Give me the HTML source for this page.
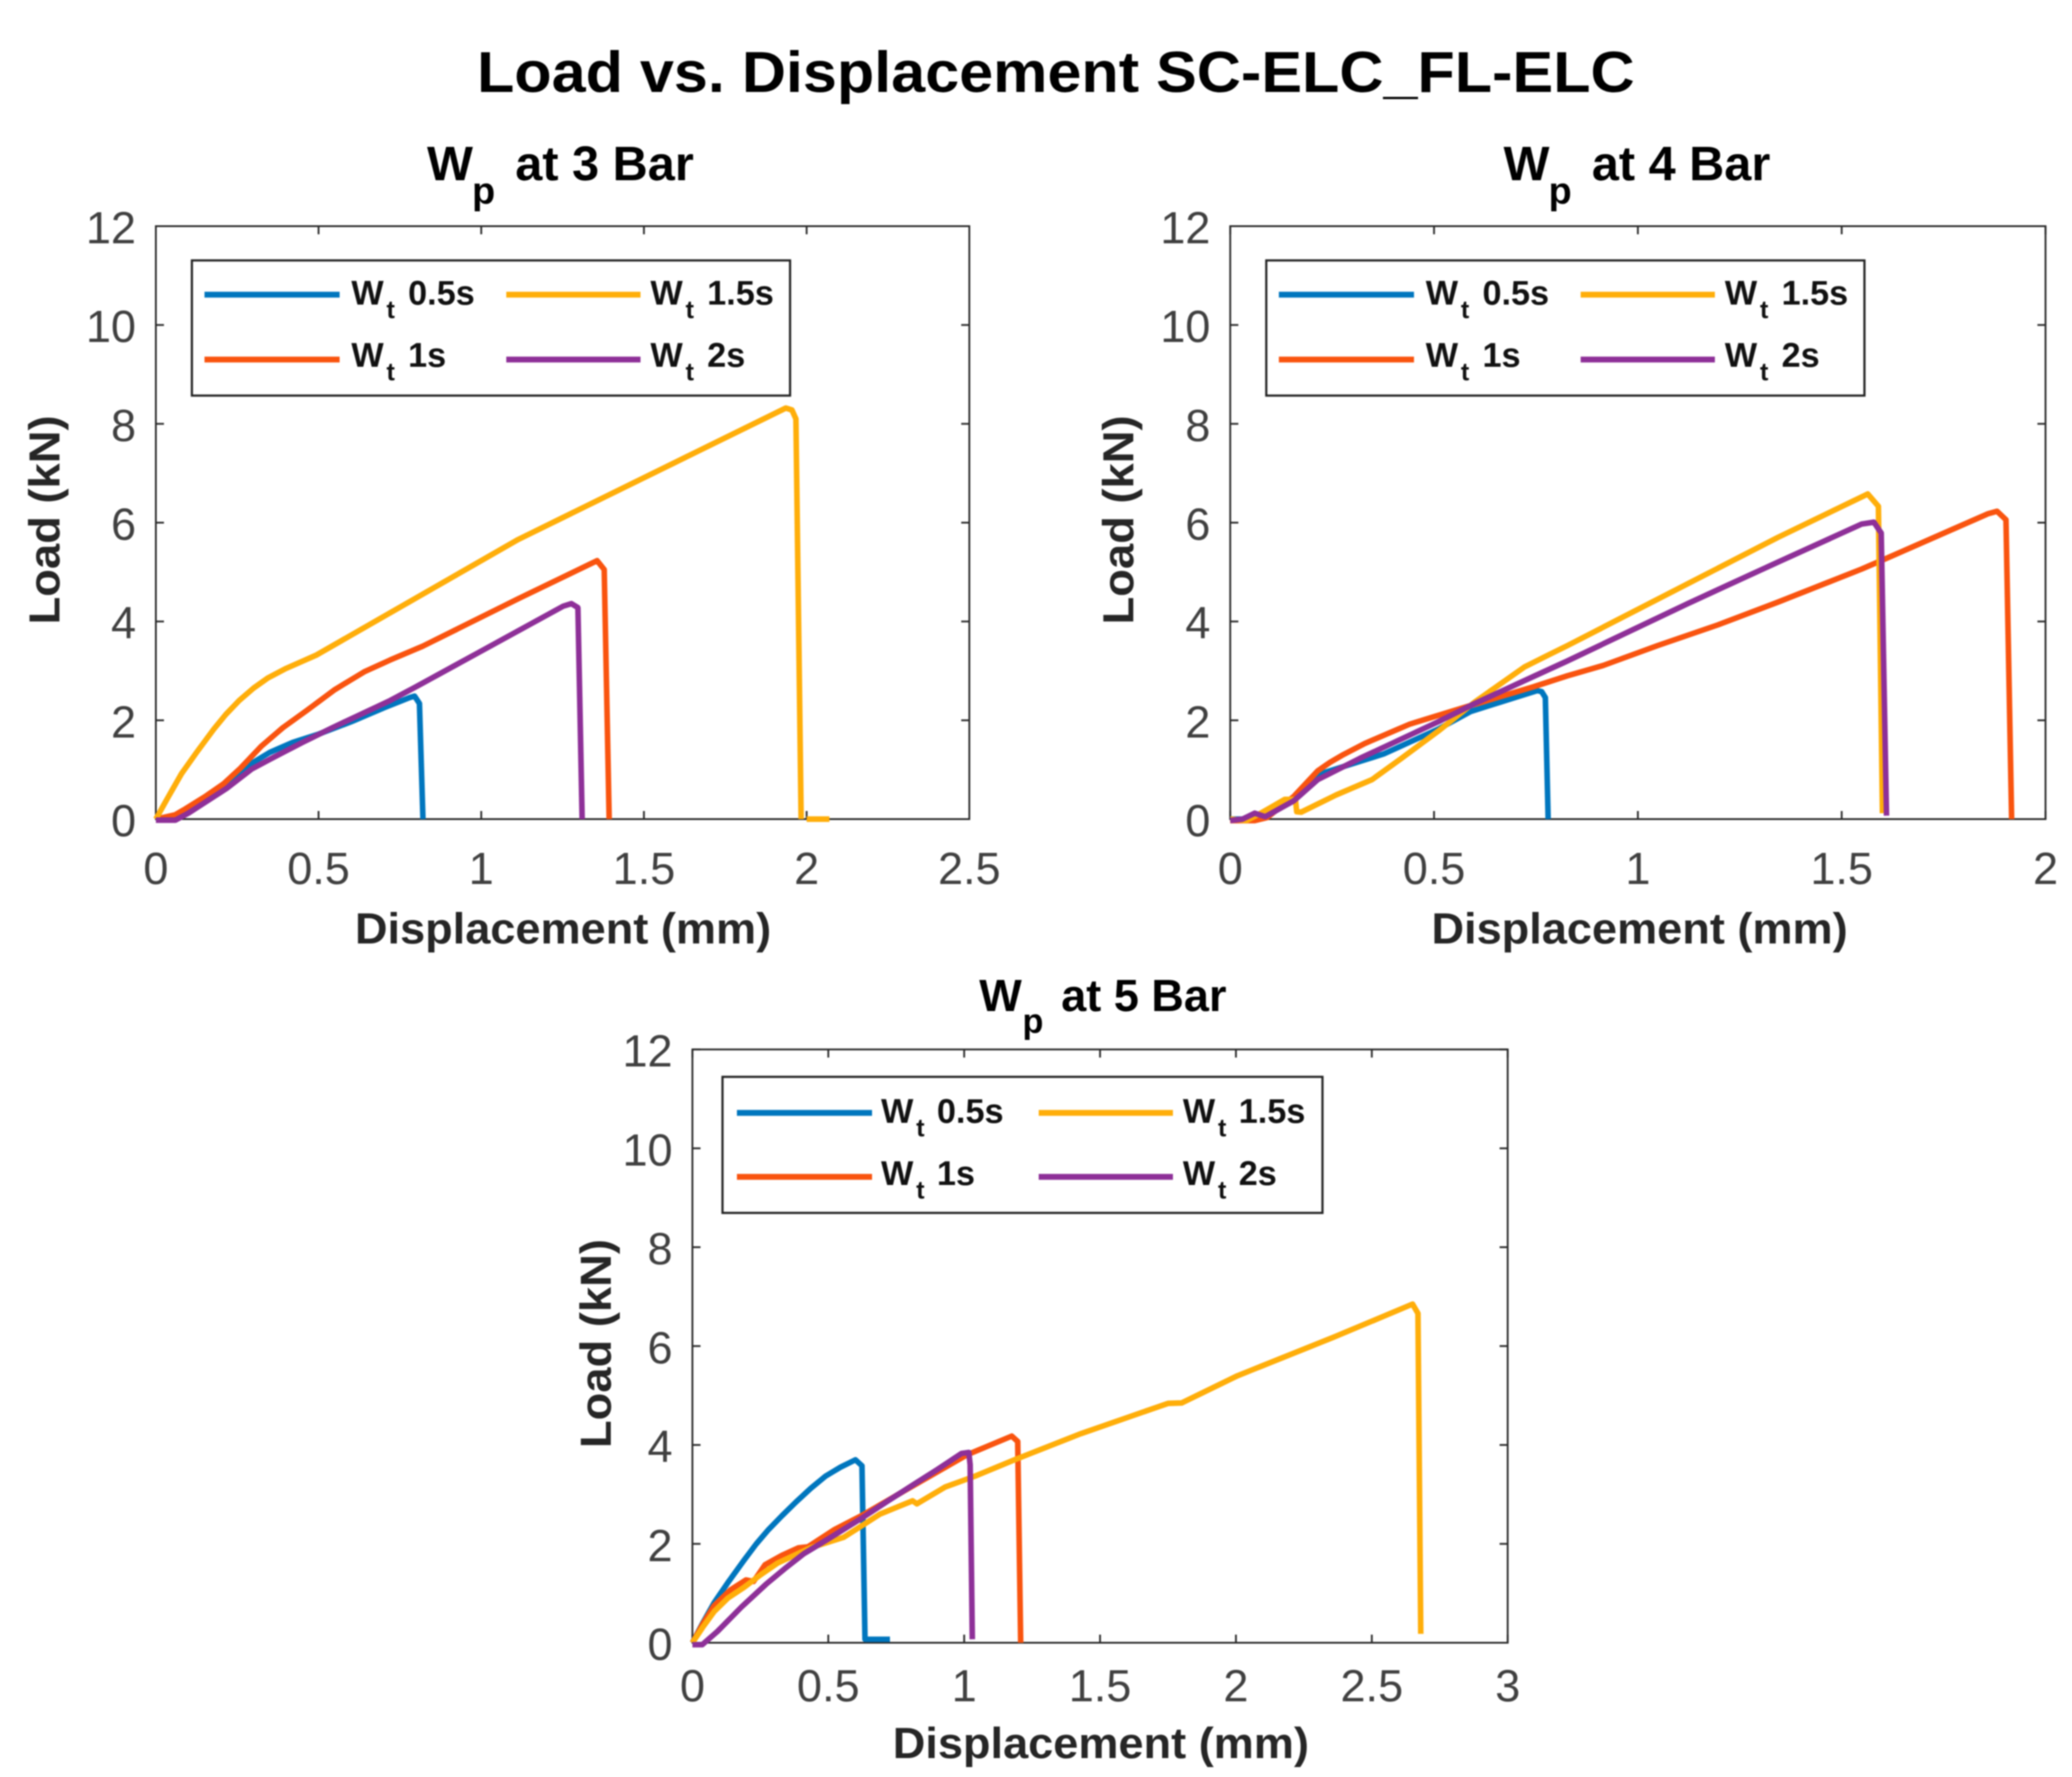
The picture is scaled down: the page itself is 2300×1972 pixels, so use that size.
<!DOCTYPE html>
<html>
<head>
<meta charset="utf-8">
<title>Load vs. Displacement SC-ELC_FL-ELC</title>
<style>
html,body{margin:0;padding:0;background:#fff;}
svg{display:block;filter:blur(0.8px);}
text{font-family:"Liberation Sans",Arial,sans-serif;}
.main{font-size:64px;font-weight:bold;fill:#000;}
.sub{font-size:54px;font-weight:bold;fill:#000;}
.sub5{font-size:50px;font-weight:bold;fill:#000;}
.lab{font-size:48px;font-weight:bold;fill:#262626;}
.leg{font-size:38px;font-weight:bold;fill:#111;}
.low{font-size:28px;}
.tick{font-size:50px;fill:#404040;}
.legbox{fill:#fff;stroke:#222;stroke-width:2.4;}
.legline{stroke-width:6.5;fill:none;}
</style>
</head>
<body>
<svg id="figure" width="2300" height="1972" viewBox="0 0 2300 1972" xmlns="http://www.w3.org/2000/svg">
<rect width="2300" height="1972" fill="#fff"/>
<text class="main" x="1172" y="102" text-anchor="middle" textLength="1285" lengthAdjust="spacingAndGlyphs">Load vs. Displacement SC-ELC_FL-ELC</text>

<g id="plot3">
<text class="sub" x="474" y="200">W<tspan style="font-size:42px" x="524" dy="26">p</tspan><tspan x="572" dy="-26">at 3 Bar</tspan></text>
<text class="lab" x="625" y="1047" text-anchor="middle" textLength="462" lengthAdjust="spacingAndGlyphs">Displacement (mm)</text>
<text class="lab" transform="translate(66,577) rotate(-90)" text-anchor="middle" textLength="232" lengthAdjust="spacingAndGlyphs">Load (kN)</text>
</g>

<g id="plot4">
<text class="sub" x="1669" y="200">W<tspan style="font-size:42px" x="1719" dy="26">p</tspan><tspan x="1767" dy="-26">at 4 Bar</tspan></text>
<text class="lab" x="1820" y="1047" text-anchor="middle" textLength="462" lengthAdjust="spacingAndGlyphs">Displacement (mm)</text>
<text class="lab" transform="translate(1258,577) rotate(-90)" text-anchor="middle" textLength="232" lengthAdjust="spacingAndGlyphs">Load (kN)</text>
</g>

<g id="plot5">
<text class="sub5" x="1087" y="1122">W<tspan style="font-size:38px" x="1135" dy="24">p</tspan><tspan x="1178" dy="-24">at 5 Bar</tspan></text>
<text class="lab" x="1222" y="1951" text-anchor="middle" textLength="462" lengthAdjust="spacingAndGlyphs">Displacement (mm)</text>
<text class="lab" transform="translate(678,1491) rotate(-90)" text-anchor="middle" textLength="232" lengthAdjust="spacingAndGlyphs">Load (kN)</text>
</g>

<g id="legend3">
<rect class="legbox" x="213" y="289" width="664" height="150"/>
<line class="legline" x1="227" x2="377" y1="327" y2="327" stroke="#0076BE"/>
<line class="legline" x1="227" x2="377" y1="399" y2="399" stroke="#F9540F"/>
<line class="legline" x1="562" x2="711" y1="327" y2="327" stroke="#FFAE0A"/>
<line class="legline" x1="562" x2="711" y1="399" y2="399" stroke="#8E3098"/>
<text class="leg" x="390" y="338">W<tspan class="low" x="429" dy="15">t</tspan><tspan x="453" dy="-15">0.5s</tspan></text>
<text class="leg" x="390" y="407">W<tspan class="low" x="429" dy="15">t</tspan><tspan x="453" dy="-15">1s</tspan></text>
<text class="leg" x="722" y="338">W<tspan class="low" x="761" dy="15">t</tspan><tspan x="785" dy="-15">1.5s</tspan></text>
<text class="leg" x="722" y="407">W<tspan class="low" x="761" dy="15">t</tspan><tspan x="785" dy="-15">2s</tspan></text>
</g>

<g id="legend4" transform="translate(1192.6,0)">
<rect class="legbox" x="213" y="289" width="664" height="150"/>
<line class="legline" x1="227" x2="377" y1="327" y2="327" stroke="#0076BE"/>
<line class="legline" x1="227" x2="377" y1="399" y2="399" stroke="#F9540F"/>
<line class="legline" x1="562" x2="711" y1="327" y2="327" stroke="#FFAE0A"/>
<line class="legline" x1="562" x2="711" y1="399" y2="399" stroke="#8E3098"/>
<text class="leg" x="390" y="338">W<tspan class="low" x="429" dy="15">t</tspan><tspan x="453" dy="-15">0.5s</tspan></text>
<text class="leg" x="390" y="407">W<tspan class="low" x="429" dy="15">t</tspan><tspan x="453" dy="-15">1s</tspan></text>
<text class="leg" x="722" y="338">W<tspan class="low" x="761" dy="15">t</tspan><tspan x="785" dy="-15">1.5s</tspan></text>
<text class="leg" x="722" y="407">W<tspan class="low" x="761" dy="15">t</tspan><tspan x="785" dy="-15">2s</tspan></text>
</g>

<g id="legend5">
<rect class="legbox" x="802" y="1195" width="666" height="151"/>
<line class="legline" x1="818" x2="968" y1="1235" y2="1235" stroke="#0076BE"/>
<line class="legline" x1="818" x2="968" y1="1306" y2="1306" stroke="#F9540F"/>
<line class="legline" x1="1153" x2="1302" y1="1235" y2="1235" stroke="#FFAE0A"/>
<line class="legline" x1="1153" x2="1302" y1="1306" y2="1306" stroke="#8E3098"/>
<text class="leg" x="978" y="1246">W<tspan class="low" x="1017" dy="15">t</tspan><tspan x="1040" dy="-15">0.5s</tspan></text>
<text class="leg" x="978" y="1315">W<tspan class="low" x="1017" dy="15">t</tspan><tspan x="1040" dy="-15">1s</tspan></text>
<text class="leg" x="1313" y="1246">W<tspan class="low" x="1352" dy="15">t</tspan><tspan x="1375" dy="-15">1.5s</tspan></text>
<text class="leg" x="1313" y="1315">W<tspan class="low" x="1352" dy="15">t</tspan><tspan x="1375" dy="-15">2s</tspan></text>
</g>
</svg>

<script>
/* Shared tick labels */
const yTicks = [0, 2, 4, 6, 8, 10, 12];
const xTicks3Bar = [0, 0.5, 1, 1.5, 2, 2.5];
const xTicks4Bar = [0, 0.5, 1, 1.5, 2];
const xTicks5Bar = [0, 0.5, 1, 1.5, 2, 2.5, 3];

/* Series names */
const seriesNames = ['wt-0-5s', 'wt-1s', 'wt-1-5s', 'wt-2s'];

/* 3 Bar (displacement mm, load kN); null = gap */
const bar3Wt05X = [0, 0.05, 0.1, 0.2, 0.3, 0.35, 0.42, 0.5, 0.6, 0.7, 0.78, 0.795, 0.81, 0.821];
const bar3Wt05Y = [0, 0.02, 0.15, 0.62, 1.15, 1.35, 1.55, 1.72, 1.97, 2.25, 2.46, 2.49, 2.34, 0];
const bar3Wt1X = [0, 0.06, 0.089, 0.15, 0.207, 0.26, 0.325, 0.39, 0.464, 0.55, 0.64, 0.72, 0.82, 1.114, 1.356, 1.378, 1.393];
const bar3Wt1Y = [0, 0.09, 0.2, 0.45, 0.71, 1.03, 1.48, 1.85, 2.2, 2.62, 2.98, 3.22, 3.5, 4.46, 5.23, 5.05, 0];
const bar3Wt15X = [0, 0.04, 0.079, 0.125, 0.178, 0.215, 0.256, 0.3, 0.345, 0.4, 0.493, 1.114, 1.936, 1.955, 1.967, 1.983, null, 2.0, 2.07];
const bar3Wt15Y = [0, 0.47, 0.92, 1.35, 1.82, 2.12, 2.4, 2.65, 2.86, 3.05, 3.32, 5.66, 8.32, 8.28, 8.1, 0, null, 0, 0];
const bar3Wt2X = [0, 0.06, 0.1, 0.217, 0.296, 0.365, 0.45, 0.542, 0.72, 0.8, 0.986, 1.252, 1.277, 1.297, 1.31];
const bar3Wt2Y = [-0.02, -0.02, 0.12, 0.62, 1.02, 1.26, 1.55, 1.85, 2.4, 2.68, 3.35, 4.31, 4.36, 4.28, 0];

/* 4 Bar */
const bar4Wt05X = [0, 0.06, 0.156, 0.222, 0.3, 0.377, 0.51, 0.59, 0.753, 0.764, 0.773, 0.78];
const bar4Wt05Y = [0, 0, 0.43, 0.92, 1.12, 1.32, 1.82, 2.18, 2.6, 2.58, 2.46, 0];
const bar4Wt1X = [0, 0.06, 0.09, 0.156, 0.215, 0.245, 0.274, 0.33, 0.392, 0.44, 0.495, 0.59, 0.745, 0.827, 0.915, 1.048, 1.196, 1.343, 1.549, 1.608, 1.859, 1.881, 1.903, 1.917];
const bar4Wt1Y = [-0.03, -0.03, 0.03, 0.46, 0.98, 1.15, 1.29, 1.53, 1.75, 1.92, 2.06, 2.3, 2.68, 2.9, 3.11, 3.51, 3.93, 4.39, 5.06, 5.27, 6.18, 6.23, 6.06, 0];
const bar4Wt15X = [0, 0.04, 0.075, 0.134, 0.16, 0.163, 0.174, 0.26, 0.348, 0.42, 0.51, 0.6, 0.722, 0.78, 0.827, 1.077, 1.343, 1.564, 1.59, 1.6];
const bar4Wt15Y = [0, -0.03, 0.12, 0.4, 0.4, 0.15, 0.14, 0.49, 0.8, 1.23, 1.78, 2.37, 3.08, 3.32, 3.51, 4.57, 5.7, 6.58, 6.33, 0.12];
const bar4Wt2X = [0, 0.03, 0.06, 0.086, 0.156, 0.215, 0.318, 0.51, 0.6, 0.745, 0.827, 1.122, 1.343, 1.549, 1.579, 1.597, 1.61];
const bar4Wt2Y = [-0.03, 0, 0.12, 0.05, 0.37, 0.8, 1.23, 1.97, 2.34, 2.89, 3.2, 4.36, 5.2, 5.97, 6.01, 5.79, 0.07];

/* 5 Bar */
const bar5Wt05X = [0, 0.04, 0.08, 0.135, 0.19, 0.235, 0.28, 0.33, 0.38, 0.435, 0.49, 0.545, 0.6, 0.624, 0.635, 0.727];
const bar5Wt05Y = [0, 0.42, 0.81, 1.25, 1.67, 2.0, 2.29, 2.57, 2.84, 3.12, 3.37, 3.55, 3.7, 3.58, 0.07, 0.07];
const bar5Wt1X = [0, 0.04, 0.08, 0.14, 0.197, 0.225, 0.268, 0.33, 0.39, 0.425, 0.523, 0.622, 0.82, 1.01, 1.175, 1.197, 1.208];
const bar5Wt1Y = [0, 0.4, 0.75, 1.07, 1.27, 1.24, 1.58, 1.77, 1.92, 1.94, 2.29, 2.57, 3.2, 3.8, 4.18, 4.07, 0];
const bar5Wt15X = [0, 0.04, 0.08, 0.13, 0.19, 0.25, 0.313, 0.434, 0.556, 0.69, 0.81, 0.826, 0.93, 1.04, 1.185, 1.43, 1.75, 1.8, 2.006, 2.36, 2.65, 2.67, 2.68];
const bar5Wt15Y = [0, 0.33, 0.63, 0.9, 1.12, 1.37, 1.61, 1.92, 2.13, 2.6, 2.87, 2.81, 3.15, 3.37, 3.7, 4.23, 4.84, 4.85, 5.4, 6.18, 6.85, 6.66, 0.18];
const bar5Wt2X = [0, 0.036, 0.092, 0.18, 0.27, 0.34, 0.41, 0.5, 0.62, 0.72, 0.82, 0.9, 0.99, 1.017, 1.022, 1.03];
const bar5Wt2Y = [-0.04, -0.04, 0.23, 0.72, 1.18, 1.5, 1.8, 2.1, 2.51, 2.87, 3.22, 3.5, 3.83, 3.85, 3.6, 0.07];

const seriesColors = ['#0076BE', '#F9540F', '#FFAE0A', '#8E3098'];
const NS = 'http://www.w3.org/2000/svg';

function makeX(ax) { return function (v) { return ax.left + (v / ax.xMax) * (ax.right - ax.left); }; }
function makeY(ax) { return function (v) { return ax.bottom - (v / 12) * (ax.bottom - ax.top); }; }

function drawAxes(ax, xTicks, seriesX, seriesY) {
  const group = document.getElementById(ax.id);
  const legend = document.getElementById(ax.legendId);
  const sx = makeX(ax);
  const sy = makeY(ax);
  const tickLen = 9;

  const frame = document.createElementNS(NS, 'rect');
  
  
  frame.setAttribute('x', ax.left);
  frame.setAttribute('y', ax.top);
  frame.setAttribute('width', ax.right - ax.left);
  frame.setAttribute('height', ax.bottom - ax.top);
  frame.setAttribute('fill', 'none');
  frame.setAttribute('stroke', '#2a2a2a');
  frame.setAttribute('stroke-width', '2');
  group.appendChild(frame);

  xTicks.forEach(function (t) {
    [[ax.bottom, ax.bottom - tickLen], [ax.top, ax.top + tickLen]].forEach(function (p) {
      const mark = document.createElementNS(NS, 'line');
      
      
      mark.setAttribute('x1', sx(t));
      mark.setAttribute('x2', sx(t));
      mark.setAttribute('y1', p[0]);
      mark.setAttribute('y2', p[1]);
      mark.setAttribute('stroke', '#2a2a2a');
      mark.setAttribute('stroke-width', '2');
      group.appendChild(mark);
    });
    const label = document.createElementNS(NS, 'text');
    
    
    label.setAttribute('class', 'tick');
    label.setAttribute('x', sx(t));
    label.setAttribute('y', ax.bottom + ax.xLabelGap);
    label.setAttribute('text-anchor', 'middle');
    label.textContent = String(t);
    group.appendChild(label);
  });

  yTicks.forEach(function (t) {
    [[ax.left, ax.left + tickLen], [ax.right, ax.right - tickLen]].forEach(function (p) {
      const mark = document.createElementNS(NS, 'line');
      
      
      mark.setAttribute('x1', p[0]);
      mark.setAttribute('x2', p[1]);
      mark.setAttribute('y1', sy(t));
      mark.setAttribute('y2', sy(t));
      mark.setAttribute('stroke', '#2a2a2a');
      mark.setAttribute('stroke-width', '2');
      group.appendChild(mark);
    });
    const label = document.createElementNS(NS, 'text');
    
    
    label.setAttribute('class', 'tick');
    label.setAttribute('x', ax.left - 22);
    label.setAttribute('y', sy(t) + 19);
    label.setAttribute('text-anchor', 'end');
    label.textContent = String(t);
    group.appendChild(label);
  });

  seriesX.forEach(function (xs, i) {
    const ys = seriesY[i];
    let d = '';
    let pen = false;
    xs.forEach(function (x, k) {
      if (x === null) { pen = false; return; }
      d += (pen ? 'L' : 'M') + sx(x).toFixed(1) + ' ' + sy(ys[k]).toFixed(1);
      pen = true;
    });
    const line = document.createElementNS(NS, 'path');
    
    
    line.setAttribute('d', d);
    line.setAttribute('fill', 'none');
    line.setAttribute('stroke', seriesColors[i]);
    line.setAttribute('stroke-width', '6.2');
    line.setAttribute('stroke-linejoin', 'round');
    group.appendChild(line);
  });

  /* keep legend above everything in its plot */
  group.parentNode.appendChild(legend);
}

drawAxes({ id: 'plot3', legendId: 'legend3', left: 173, right: 1076, top: 251, bottom: 909, xMax: 2.5, xLabelGap: 72 },
  xTicks3Bar,
  [bar3Wt05X, bar3Wt1X, bar3Wt15X, bar3Wt2X],
  [bar3Wt05Y, bar3Wt1Y, bar3Wt15Y, bar3Wt2Y]);

drawAxes({ id: 'plot4', legendId: 'legend4', left: 1365.6, right: 2270.6, top: 251, bottom: 909, xMax: 2, xLabelGap: 72 },
  xTicks4Bar,
  [bar4Wt05X, bar4Wt1X, bar4Wt15X, bar4Wt2X],
  [bar4Wt05Y, bar4Wt1Y, bar4Wt15Y, bar4Wt2Y]);

drawAxes({ id: 'plot5', legendId: 'legend5', left: 768.6, right: 1673.6, top: 1164.6, bottom: 1823, xMax: 3, xLabelGap: 65 },
  xTicks5Bar,
  [bar5Wt05X, bar5Wt1X, bar5Wt15X, bar5Wt2X],
  [bar5Wt05Y, bar5Wt1Y, bar5Wt15Y, bar5Wt2Y]);
</script>
</body>
</html>
